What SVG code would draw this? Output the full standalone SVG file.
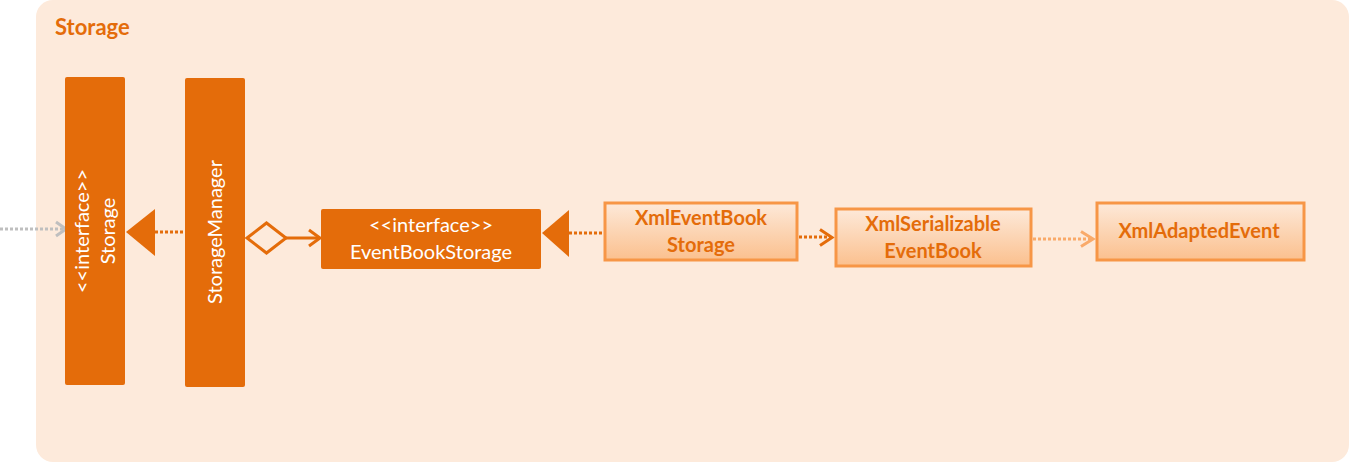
<svg xmlns="http://www.w3.org/2000/svg" width="1349" height="462" viewBox="0 0 1349 462">
<defs>
<linearGradient id="lg" x1="0" y1="0" x2="0" y2="1">
<stop offset="0" stop-color="#FDE9D9"/>
<stop offset="1" stop-color="#FBC08E"/>
</linearGradient>
<style>
.t{font-family:Lato,"Liberation Sans",sans-serif;}
.dark{fill:#E46C0A;}
.wt{fill:#FFFFFF;font-size:20px;}
.lt{fill:url(#lg);stroke:#F79646;stroke-width:3;}
.ot{fill:#E46C0A;font-size:20px;font-weight:bold;}
.dot{stroke-width:3;stroke-dasharray:3 2;fill:none;}
</style>
</defs>
<rect x="36" y="0" width="1313" height="462" rx="17" fill="#FDEADB"/>
<text class="t" x="55" y="35" font-size="22" font-weight="bold" fill="#E46C0A">Storage</text>
<g id="connectors">
<line class="dot" x1="0" y1="229" x2="64" y2="229" stroke="#BFBFBF"/>
<polyline points="56,222 66,229 56,236" fill="none" stroke="#BFBFBF" stroke-width="3"/>
<line class="dot" x1="155" y1="232" x2="185" y2="232" stroke="#E46C0A"/>
<polygon points="126,232 155,209 155,256" fill="#E46C0A"/>
<polygon points="247,238 266.5,223 286,238 266.5,253" fill="#FDEADB" stroke="#E46C0A" stroke-width="3"/>
<line x1="286" y1="238" x2="319" y2="238" stroke="#E46C0A" stroke-width="3"/>
<polyline points="309,230 320,238 309,246" fill="none" stroke="#E46C0A" stroke-width="3"/>
<line class="dot" x1="569" y1="233" x2="604" y2="233" stroke="#E46C0A"/>
<polygon points="542,233 569,210 569,257" fill="#E46C0A"/>
<line class="dot" x1="799" y1="237" x2="831" y2="237" stroke="#E46C0A"/>
<polyline points="820,229.5 832,237.5 820,245.5" fill="none" stroke="#E46C0A" stroke-width="3"/>
<line class="dot" x1="1033" y1="239" x2="1092" y2="239" stroke="#F9AA6A"/>
<polyline points="1081,231.5 1093,239 1081,246.5" fill="none" stroke="#F9AA6A" stroke-width="3"/>
</g>
<g id="storage">
<rect x="65" y="77" width="60" height="308" rx="2" class="dark"/>
<text class="t wt" transform="translate(89,231) rotate(-90)" text-anchor="middle" font-size="21">&lt;&lt;interface&gt;&gt;</text>
<text class="t wt" transform="translate(115,231) rotate(-90)" text-anchor="middle" font-size="21">Storage</text>
</g>
<g id="storageManager">
<rect x="185" y="78" width="60" height="309" rx="2" class="dark"/>
<text class="t wt" transform="translate(222,232) rotate(-90)" text-anchor="middle" font-size="21">StorageManager</text>
</g>
<g id="eventBookStorage">
<rect x="321" y="209" width="220" height="60" rx="2" class="dark"/>
<text class="t wt" x="431" y="232" text-anchor="middle">&lt;&lt;interface&gt;&gt;</text>
<text class="t wt" x="431" y="259" text-anchor="middle">EventBookStorage</text>
</g>
<g id="xmlEventBookStorage">
<rect x="605" y="203" width="192" height="57" class="lt"/>
<text class="t ot" x="701" y="225" text-anchor="middle">XmlEventBook</text>
<text class="t ot" x="701" y="252" text-anchor="middle">Storage</text>
</g>
<g id="xmlSerializableEventBook">
<rect x="836" y="209" width="195" height="57" class="lt"/>
<text class="t ot" x="933" y="231" text-anchor="middle">XmlSerializable</text>
<text class="t ot" x="933" y="258" text-anchor="middle">EventBook</text>
</g>
<g id="xmlAdaptedEvent">
<rect x="1097" y="203" width="207" height="57" class="lt"/>
<text class="t ot" x="1199" y="238" text-anchor="middle">XmlAdaptedEvent</text>
</g>
</svg>
